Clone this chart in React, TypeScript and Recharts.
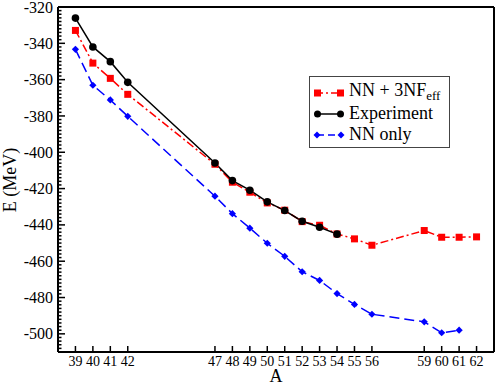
import { LineChart, Line, XAxis, YAxis, Legend } from "recharts";

const FONT = "'Liberation Serif', 'Times New Roman', serif";

// mass numbers and energies (MeV)
const aExp = [39, 40, 41, 42, 47, 48, 49, 50, 51, 52, 53, 54];
const eExp = [-326.1, -342.0, -350.1, -361.5, -405.9, -415.6, -420.9, -427.3, -432.1, -438.0, -441.3, -445.1];

const a3nf = [39, 40, 41, 42, 47, 48, 49, 50, 51, 52, 53, 54, 55, 56, 59, 60, 61, 62];
const e3nf = [-332.9, -350.9, -359.3, -368.1, -406.6, -416.5, -422.0, -427.9, -431.9, -438.2, -440.2, -445.0, -447.7, -451.2, -443.1, -446.8, -446.8, -446.6];

const aNN = [39, 40, 41, 42, 47, 48, 49, 50, 51, 52, 53, 54, 55, 56, 59, 60, 61];
const eNN = [-343.3, -363.1, -371.2, -380.2, -424.2, -433.8, -441.8, -450.1, -457.3, -465.8, -470.6, -477.8, -483.8, -489.2, -493.4, -499.4, -498.0];

const xTicks = [39, 40, 41, 42, 47, 48, 49, 50, 51, 52, 53, 54, 55, 56, 59, 60, 61, 62];

const yTicks: number[] = [];
for (let v = -510; v <= -320; v += 2) yTicks.push(v);

const zip = (a: number[], e: number[]) => a.map((x, i) => ({ A: x, E: e[i] }));
const expData = zip(aExp, eExp);
const nfData = zip(a3nf, e3nf);
const nnData = zip(aNN, eNN);

const RED = "#ff0000";
const BLUE = "#0000ff";

const Square = (p: any) =>
  p.cx == null ? null : (
    <rect key={`s${p.index}`} x={p.cx - 3.5} y={p.cy - 3.5} width={7} height={7} fill={RED} />
  );
const Dot = (p: any) =>
  p.cx == null ? null : <circle key={`c${p.index}`} cx={p.cx} cy={p.cy} r={3.8} fill="#000" />;
const Diamond = (p: any) =>
  p.cx == null ? null : (
    <polygon
      key={`d${p.index}`}
      points={`${p.cx},${p.cy - 3.6} ${p.cx + 3.6},${p.cy} ${p.cx},${p.cy + 3.6} ${p.cx - 3.6},${p.cy}`}
      fill={BLUE}
    />
  );

const BottomTick = ({ x, y, payload }: any) => (
  <g>
    <line x1={x} y1={y} x2={x} y2={y - 6} stroke="#000" strokeWidth={1.5} />
    <text x={x} y={y + 14} textAnchor="middle" fontSize={14} fontFamily={FONT} fill="#000">
      {payload.value}
    </text>
  </g>
);
const TopTick = ({ x, y }: any) => (
  <line x1={x} y1={y} x2={x} y2={y + 6} stroke="#000" strokeWidth={1.5} />
);
const LeftTick = ({ x, y, payload }: any) => {
  const major = payload.value % 20 === 0;
  return (
    <g>
      <line x1={x} y1={y} x2={x + (major ? 7 : 3.5)} y2={y} stroke="#000" strokeWidth={1.5} />
      {major && (
        <text x={x - 5} y={y} dy="0.35em" textAnchor="end" fontSize={16} fontFamily={FONT} fill="#000">
          {payload.value}
        </text>
      )}
    </g>
  );
};
const RightTick = ({ x, y, payload }: any) => {
  const major = payload.value % 20 === 0;
  return <line x1={x} y1={y} x2={x - (major ? 7 : 3.5)} y2={y} stroke="#000" strokeWidth={1.5} />;
};

const Sample = ({ kind }: { kind: string }) => (
  <svg width={32} height={12} style={{ display: "block" }}>
    {kind === "nf" && (
      <>
        <line x1={4} y1={6} x2={28} y2={6} stroke={RED} strokeWidth={1.5} strokeDasharray="6 3 2 3" />
        <rect x={1} y={2.5} width={7} height={7} fill={RED} />
        <rect x={24} y={2.5} width={7} height={7} fill={RED} />
      </>
    )}
    {kind === "exp" && (
      <>
        <line x1={4} y1={6} x2={28} y2={6} stroke="#000" strokeWidth={1.5} />
        <circle cx={4.5} cy={6} r={3.5} fill="#000" />
        <circle cx={27.5} cy={6} r={3.5} fill="#000" />
      </>
    )}
    {kind === "nn" && (
      <>
        <line x1={4} y1={6} x2={28} y2={6} stroke={BLUE} strokeWidth={1.5} strokeDasharray="7 4" />
        <polygon points="4,2.5 7.5,6 4,9.5 0.5,6" fill={BLUE} />
        <polygon points="28,2.5 31.5,6 28,9.5 24.5,6" fill={BLUE} />
      </>
    )}
  </svg>
);

const LegendBox = () => (
  <div
    style={{
      border: "1px solid #444",
      background: "#fff",
      width: 139,
      height: 65,
      boxSizing: "content-box",
      paddingTop: 5,
      fontFamily: FONT,
      fontSize: 18,
      color: "#000",
    }}
  >
    {[
      ["nf", "NN + 3NF", "eff"],
      ["exp", "Experiment", ""],
      ["nn", "NN only", ""],
    ].map(([k, label, sub]) => (
      <div key={k} style={{ display: "flex", alignItems: "center", height: 21, paddingLeft: 3 }}>
        <Sample kind={k} />
        <span style={{ marginLeft: 4, whiteSpace: "nowrap", lineHeight: "21px" }}>
          {label}
          {sub && <sub style={{ fontSize: 13, verticalAlign: "-4px" }}>{sub}</sub>}
        </span>
      </div>
    ))}
  </div>
);

export default function App() {
  return (
    <div style={{ position: "absolute", left: 0, top: 0 }}>
      <LineChart width={498} height={385} margin={{ top: 0, right: 0, bottom: 0, left: 0 }} style={{ fontFamily: FONT }}>
        <XAxis
          dataKey="A"
          type="number"
          domain={[38, 63]}
          ticks={xTicks}
          interval={0}
          height={33}
          tickSize={0}
          tickMargin={0}
          tickLine={false}
          axisLine={{ stroke: "#000", strokeWidth: 2 }}
          tick={<BottomTick />}
          label={{
            content: () => (
              <text x={276} y={382} textAnchor="middle" fontSize={18} fontFamily={FONT} fill="#000">
                A
              </text>
            ),
          }}
        />
        <XAxis
          xAxisId="top"
          orientation="top"
          dataKey="A"
          type="number"
          domain={[38, 63]}
          ticks={xTicks}
          interval={0}
          height={7}
          tickSize={0}
          tickMargin={0}
          tickLine={false}
          axisLine={{ stroke: "#000", strokeWidth: 2 }}
          tick={<TopTick />}
        />
        <YAxis
          type="number"
          domain={[-510, -320]}
          ticks={yTicks}
          interval={0}
          width={58}
          tickSize={0}
          tickMargin={0}
          tickLine={false}
          axisLine={{ stroke: "#000", strokeWidth: 2 }}
          tick={<LeftTick />}
          label={{
            content: () => (
              <text
                x={16}
                y={180}
                transform="rotate(-90 16 180)"
                textAnchor="middle"
                fontSize={18}
                fontFamily={FONT}
                fill="#000"
              >
                E (MeV)
              </text>
            ),
          }}
        />
        <YAxis
          yAxisId="right"
          orientation="right"
          type="number"
          domain={[-510, -320]}
          ticks={yTicks}
          interval={0}
          width={4}
          tickSize={0}
          tickMargin={0}
          tickLine={false}
          axisLine={{ stroke: "#000", strokeWidth: 2 }}
          tick={<RightTick />}
        />
        <Legend
          layout="vertical"
          align="center"
          verticalAlign="middle"
          wrapperStyle={{ left: 309, top: 76, width: "auto" }}
          content={() => <LegendBox />}
        />
        <Line
          data={nnData}
          dataKey="E"
          stroke={BLUE}
          strokeWidth={1.5}
          strokeDasharray="10 5"
          dot={Diamond}
          activeDot={false}
          isAnimationActive={false}
        />
        <Line
          data={nfData}
          dataKey="E"
          stroke={RED}
          strokeWidth={1.5}
          strokeDasharray="8 3 2 3"
          dot={Square}
          activeDot={false}
          isAnimationActive={false}
        />
        <Line
          data={expData}
          dataKey="E"
          stroke="#000"
          strokeWidth={1.5}
          dot={Dot}
          activeDot={false}
          isAnimationActive={false}
        />
      </LineChart>
    </div>
  );
}
